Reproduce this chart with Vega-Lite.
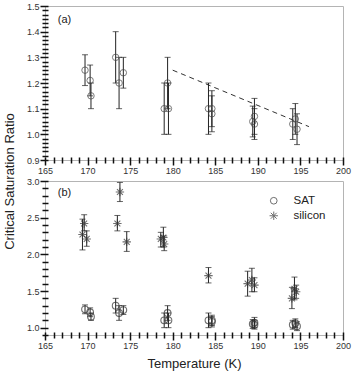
{
  "$schema": "https://vega.github.io/schema/vega-lite/v6.json",
  "padding": {"left": 2, "top": 1, "right": 5, "bottom": 2},
  "spacing": 21,
  "bounds": "flush",
  "config": {
    "font": "Liberation Sans",
    "view": {"stroke": "#b4b4b4", "strokeWidth": 1},
    "axis": {
      "labelFont": "Liberation Sans",
      "labelFontSize": 9,
      "labelColor": "#333333",
      "tickColor": "#111111",
      "tickWidth": 1.5,
      "titleFont": "Liberation Sans",
      "titleFontSize": 13,
      "titleFontWeight": "normal",
      "titleColor": "#222222",
      "domain": false,
      "grid": false,
      "offset": -3,
      "labelOverlap": false,
      "labelFlush": false
    },
    "legend": {
      "labelFont": "Liberation Sans",
      "labelFontSize": 11.5,
      "labelColor": "#222222"
    }
  },
  "datasets": {
    "obs": [
      {"material": "SAT", "T": 169.7, "ratio": 1.25, "lo": 1.19, "hi": 1.31},
      {"material": "SAT", "T": 170.3, "ratio": 1.21, "lo": 1.15, "hi": 1.27},
      {"material": "SAT", "T": 170.4, "ratio": 1.15, "lo": 1.10, "hi": 1.20},
      {"material": "SAT", "T": 173.3, "ratio": 1.30, "lo": 1.20, "hi": 1.40},
      {"material": "SAT", "T": 173.7, "ratio": 1.20, "lo": 1.10, "hi": 1.30},
      {"material": "SAT", "T": 174.2, "ratio": 1.24, "lo": 1.18, "hi": 1.30},
      {"material": "SAT", "T": 179.0, "ratio": 1.10, "lo": 1.00, "hi": 1.20},
      {"material": "SAT", "T": 179.4, "ratio": 1.20, "lo": 1.10, "hi": 1.30},
      {"material": "SAT", "T": 179.5, "ratio": 1.10, "lo": 1.00, "hi": 1.20},
      {"material": "SAT", "T": 184.2, "ratio": 1.10, "lo": 1.00, "hi": 1.20},
      {"material": "SAT", "T": 184.6, "ratio": 1.10, "lo": 1.03, "hi": 1.17},
      {"material": "SAT", "T": 184.6, "ratio": 1.08, "lo": 1.01, "hi": 1.15},
      {"material": "SAT", "T": 189.4, "ratio": 1.05, "lo": 0.99, "hi": 1.11},
      {"material": "SAT", "T": 189.6, "ratio": 1.07, "lo": 1.00, "hi": 1.14},
      {"material": "SAT", "T": 189.6, "ratio": 1.04, "lo": 0.98, "hi": 1.10},
      {"material": "SAT", "T": 194.1, "ratio": 1.04, "lo": 0.98, "hi": 1.10},
      {"material": "SAT", "T": 194.4, "ratio": 1.06, "lo": 1.00, "hi": 1.12},
      {"material": "SAT", "T": 194.6, "ratio": 1.02, "lo": 0.96, "hi": 1.08},
      {"material": "silicon", "T": 169.6, "ratio": 2.42, "lo": 2.32, "hi": 2.54},
      {"material": "silicon", "T": 169.4, "ratio": 2.27, "lo": 2.06, "hi": 2.48},
      {"material": "silicon", "T": 169.9, "ratio": 2.21, "lo": 2.11, "hi": 2.32},
      {"material": "silicon", "T": 173.8, "ratio": 2.85, "lo": 2.72, "hi": 2.98},
      {"material": "silicon", "T": 173.5, "ratio": 2.42, "lo": 2.32, "hi": 2.53},
      {"material": "silicon", "T": 174.6, "ratio": 2.17, "lo": 2.04, "hi": 2.31},
      {"material": "silicon", "T": 178.6, "ratio": 2.21, "lo": 2.10, "hi": 2.30},
      {"material": "silicon", "T": 178.9, "ratio": 2.23, "lo": 2.10, "hi": 2.37},
      {"material": "silicon", "T": 179.0, "ratio": 2.14, "lo": 2.05, "hi": 2.25},
      {"material": "silicon", "T": 184.2, "ratio": 1.71, "lo": 1.61, "hi": 1.82},
      {"material": "silicon", "T": 188.8, "ratio": 1.60, "lo": 1.43, "hi": 1.77},
      {"material": "silicon", "T": 189.3, "ratio": 1.65, "lo": 1.49, "hi": 1.81},
      {"material": "silicon", "T": 189.6, "ratio": 1.58, "lo": 1.49, "hi": 1.68},
      {"material": "silicon", "T": 194.0, "ratio": 1.40, "lo": 1.26, "hi": 1.55},
      {"material": "silicon", "T": 194.3, "ratio": 1.53, "lo": 1.38, "hi": 1.69},
      {"material": "silicon", "T": 194.5, "ratio": 1.49, "lo": 1.40, "hi": 1.58}
    ],
    "trend": [
      {"T": 180, "ratio": 1.25},
      {"T": 196, "ratio": 1.03}
    ],
    "tags": [
      {"panel": "a", "T": 166.5, "ratio": 1.445, "label": "(a)"},
      {"panel": "b", "T": 166.5, "ratio": 2.84, "label": "(b)"}
    ]
  },
  "vconcat": [
    {
      "width": 298,
      "height": 154,
      "encoding": {
        "x": {
          "field": "T", "type": "quantitative", "title": null,
          "scale": {"domain": [165, 200], "nice": false, "zero": false},
          "axis": {
            "values": [165,166,167,168,169,170,171,172,173,174,175,176,177,178,179,180,181,182,183,184,185,186,187,188,189,190,191,192,193,194,195,196,197,198,199,200],
            "labelExpr": "datum.value % 5 === 0 ? datum.label : ''",
            "tickSize": {"condition": {"test": "datum.value % 5 === 0", "value": 8}, "value": 6},
            "labelPadding": 1,
            "format": "d"
          }
        },
        "y": {
          "field": "ratio", "type": "quantitative", "title": "Critical Saturation Ratio",
          "scale": {"domain": [0.9, 1.5], "nice": false, "zero": false},
          "axis": {
            "values": [0.9,0.9167,0.9333,0.95,0.9667,0.9833,1.0,1.0167,1.0333,1.05,1.0667,1.0833,1.1,1.1167,1.1333,1.15,1.1667,1.1833,1.2,1.2167,1.2333,1.25,1.2667,1.2833,1.3,1.3167,1.3333,1.35,1.3667,1.3833,1.4,1.4167,1.4333,1.45,1.4667,1.4833,1.5],
            "labelExpr": "abs(datum.value * 10 - round(datum.value * 10)) < 0.001 ? format(datum.value, '.1f') : ''",
            "tickSize": {"condition": {"test": "abs(datum.value * 10 - round(datum.value * 10)) < 0.001", "value": 8}, "value": 6},
            "labelPadding": 1,
            "titleX": -32,
            "titleY": 175
          }
        }
      },
      "layer": [
        {
          "mark": {"type": "rule", "color": "#000000", "strokeWidth": 1},
          "encoding": {"x": {"datum": 165}, "y": {"datum": 0.9}, "y2": {"datum": 1.5}}
        },
        {
          "mark": {"type": "rule", "color": "#000000", "strokeWidth": 1},
          "encoding": {"y": {"datum": 0.9}, "x": {"datum": 165}, "x2": {"datum": 200}}
        },
        {
          "data": {"name": "trend"},
          "mark": {"type": "line", "color": "#333333", "strokeWidth": 1, "strokeDash": [5, 4]},
          "encoding": {}
        },
        {
          "data": {"name": "obs"},
          "transform": [{"filter": "datum.material === 'SAT'"}],
          "mark": {"type": "rule", "color": "#222222", "strokeWidth": 1},
          "encoding": {
            "y": {"field": "lo", "type": "quantitative", "title": "Critical Saturation Ratio", "scale": {"domain": [0.9, 1.5], "nice": false, "zero": false}},
            "y2": {"field": "hi"}
          }
        },
        {
          "data": {"name": "obs"},
          "transform": [{"filter": "datum.material === 'SAT'"}],
          "mark": {"type": "tick", "orient": "horizontal", "color": "#222222", "size": 6, "thickness": 1},
          "encoding": {
            "y": {"field": "lo", "type": "quantitative", "title": "Critical Saturation Ratio", "scale": {"domain": [0.9, 1.5], "nice": false, "zero": false}}
          }
        },
        {
          "data": {"name": "obs"},
          "transform": [{"filter": "datum.material === 'SAT'"}],
          "mark": {"type": "tick", "orient": "horizontal", "color": "#222222", "size": 6, "thickness": 1},
          "encoding": {
            "y": {"field": "hi", "type": "quantitative", "title": "Critical Saturation Ratio", "scale": {"domain": [0.9, 1.5], "nice": false, "zero": false}}
          }
        },
        {
          "data": {"name": "obs"},
          "transform": [{"filter": "datum.material === 'SAT'"}],
          "mark": {"type": "point", "shape": "circle", "filled": false, "color": "#444444", "strokeWidth": 1, "size": 42}
        },
        {
          "data": {"name": "tags"},
          "transform": [{"filter": "datum.panel === 'a'"}],
          "mark": {"type": "text", "align": "left", "baseline": "middle", "fontSize": 11, "color": "#222222", "font": "Liberation Sans"},
          "encoding": {"text": {"field": "label"}}
        }
      ]
    },
    {
      "width": 298,
      "height": 154,
      "encoding": {
        "x": {
          "field": "T", "type": "quantitative", "title": "Temperature (K)",
          "scale": {"domain": [165, 200], "nice": false, "zero": false},
          "axis": {
            "values": [165,166,167,168,169,170,171,172,173,174,175,176,177,178,179,180,181,182,183,184,185,186,187,188,189,190,191,192,193,194,195,196,197,198,199,200],
            "labelExpr": "datum.value % 5 === 0 ? datum.label : ''",
            "tickSize": {"condition": {"test": "datum.value % 5 === 0", "value": 8}, "value": 6},
            "labelPadding": 1,
            "titlePadding": 7,
            "format": "d"
          }
        },
        "y": {
          "field": "ratio", "type": "quantitative", "title": null,
          "scale": {"domain": [0.9, 3.0], "nice": false, "zero": false},
          "axis": {
            "values": [0.9,1.0,1.1,1.2,1.3,1.4,1.5,1.6,1.7,1.8,1.9,2.0,2.1,2.2,2.3,2.4,2.5,2.6,2.7,2.8,2.9,3.0],
            "labelExpr": "abs(datum.value * 2 - round(datum.value * 2)) < 0.001 ? format(datum.value, '.1f') : ''",
            "tickSize": {"condition": {"test": "abs(datum.value * 2 - round(datum.value * 2)) < 0.001", "value": 8}, "value": 6},
            "labelPadding": 1
          }
        }
      },
      "layer": [
        {
          "mark": {"type": "rule", "color": "#000000", "strokeWidth": 1},
          "encoding": {"x": {"datum": 165}, "y": {"datum": 0.9}, "y2": {"datum": 3.0}}
        },
        {
          "mark": {"type": "rule", "color": "#000000", "strokeWidth": 1},
          "encoding": {"y": {"datum": 0.9}, "x": {"datum": 165}, "x2": {"datum": 200}}
        },
        {
          "data": {"name": "obs"},
          "mark": {"type": "rule", "color": "#222222", "strokeWidth": 1},
          "encoding": {
            "y": {"field": "lo", "type": "quantitative", "title": null, "scale": {"domain": [0.9, 3.0], "nice": false, "zero": false}},
            "y2": {"field": "hi"}
          }
        },
        {
          "data": {"name": "obs"},
          "mark": {"type": "tick", "orient": "horizontal", "color": "#222222", "size": 6, "thickness": 1},
          "encoding": {
            "y": {"field": "lo", "type": "quantitative", "title": null, "scale": {"domain": [0.9, 3.0], "nice": false, "zero": false}}
          }
        },
        {
          "data": {"name": "obs"},
          "mark": {"type": "tick", "orient": "horizontal", "color": "#222222", "size": 6, "thickness": 1},
          "encoding": {
            "y": {"field": "hi", "type": "quantitative", "title": null, "scale": {"domain": [0.9, 3.0], "nice": false, "zero": false}}
          }
        },
        {
          "data": {"name": "obs"},
          "mark": {"type": "point", "filled": false, "color": "#333333", "strokeWidth": 1.1, "size": 45},
          "encoding": {
            "shape": {
              "field": "material", "type": "nominal", "title": null,
              "scale": {"domain": ["SAT", "silicon"], "range": ["circle", "M-1.25,0L1.25,0M0,-1.25L0,1.25M-0.88,-0.88L0.88,0.88M-0.88,0.88L0.88,-0.88"]},
              "legend": {"orient": "none", "legendX": 223, "legendY": 189, "padding": 0, "labelOffset": 14, "rowPadding": 2, "symbolStrokeWidth": 1, "symbolSize": 45, "symbolStrokeColor": "#333333", "symbolFillColor": "transparent"}
            }
          }
        },
        {
          "data": {"name": "tags"},
          "transform": [{"filter": "datum.panel === 'b'"}],
          "mark": {"type": "text", "align": "left", "baseline": "middle", "fontSize": 11, "color": "#222222", "font": "Liberation Sans"},
          "encoding": {"text": {"field": "label"}}
        }
      ]
    }
  ]
}
